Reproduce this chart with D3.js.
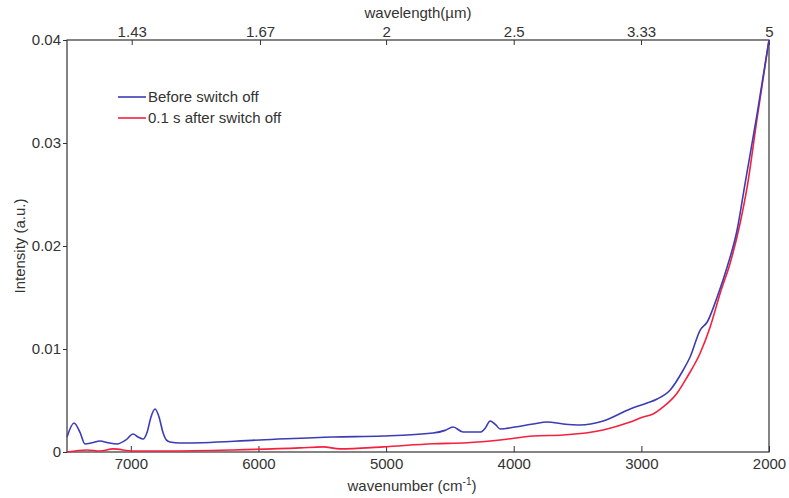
<!DOCTYPE html>
<html>
<head>
<meta charset="utf-8">
<script src="https://cdn.jsdelivr.net/npm/d3@7"></script>
<style>
  body { margin: 0; background: #fff; }
  svg text { font-family: "Liberation Sans", Arial, sans-serif; fill: #333; }
</style>
</head>
<body>
<svg id="chart" width="789" height="498"></svg>
<script>
// data (wavenumber in cm-1, intensity a.u.)
var beforeWn = [7500, 7445, 7398, 7359, 7304, 7241, 7179, 7108, 7038, 6983, 6944, 6904, 6873, 6842, 6810, 6779, 6748, 6720, 6693, 6614,
  5987, 5415, 5024, 4632, 4538, 4475, 4397, 4263, 4224, 4185, 4138, 4107, 3989, 3848, 3738, 3613, 3480, 3299, 3088,
  2955, 2876, 2774, 2672, 2618, 2539, 2484, 2406, 2328, 2250, 2187, 2092, 2000];
var beforeI = [0.00146, 0.00282, 0.0019, 0.00078, 0.0009, 0.00107, 0.0009, 0.00078, 0.00117, 0.00175, 0.00146, 0.00126, 0.0019, 0.0034, 0.00417, 0.0034, 0.0019, 0.00115, 0.00097, 0.00087,
  0.00117, 0.00146, 0.00155, 0.00184, 0.0021, 0.00243, 0.00194, 0.00194, 0.0023, 0.00301, 0.0026, 0.00223, 0.00243, 0.00272, 0.00291, 0.00272, 0.00262, 0.00301, 0.00417,
  0.00476, 0.00515, 0.00602, 0.00796, 0.00922, 0.01184, 0.01262, 0.01505, 0.01796, 0.02155, 0.0261, 0.0329, 0.04];

var afterWn = [7500, 7343, 7241, 7139, 6983, 6716, 6199, 5674, 5494, 5361, 5024, 4632, 4365, 4107, 3848, 3613, 3299, 3088,
  2986, 2908, 2829, 2719, 2641, 2539, 2461, 2382, 2304, 2226, 2171, 2092, 2000];
var afterI = [0.0000, 0.0002, 0.0001, 0.0003, 0.0001, 0.0001, 0.0002, 0.0004, 0.0005, 0.0003, 0.0005, 0.0008, 0.0009, 0.00117, 0.00155, 0.00165, 0.00214, 0.00291,
  0.0034, 0.00369, 0.00437, 0.00573, 0.00728, 0.00961, 0.01214, 0.01544, 0.01835, 0.02223, 0.02573, 0.0325, 0.04];

var xTicks = [7000, 6000, 5000, 4000, 3000, 2000];
var yTicks = [0, 0.01, 0.02, 0.03, 0.04];
var wavelengthTicks = ["1.43", "1.67", "2", "2.5", "3.33", "5"];
var seriesNames = ["Before switch off", "0.1 s after switch off"];
var seriesColors = ["#3c3cb4", "#f5203f"];

var svg = d3.select("#chart");
var margin = {top: 40, right: 20, bottom: 46, left: 67},
    width = 789 - margin.left - margin.right,
    height = 498 - margin.top - margin.bottom;

var x = d3.scaleLinear().domain([7500, 2000]).range([0, width]),
    y = d3.scaleLinear().domain([0, 0.04]).range([height, 0]);

var g = svg.append("g").attr("transform", `translate(${margin.left},${margin.top})`);

// bottom axis, ticks pointing inward
var xAxis = g.append("g")
  .attr("transform", `translate(0,${height})`)
  .call(d3.axisBottom(x).tickValues(xTicks).tickSizeInner(-6).tickSizeOuter(0).tickPadding(6).tickFormat(d3.format("d")));

// top axis: wavelength in µm, placed at 10000/λ
var topAxis = g.append("g")
  .call(d3.axisTop(x)
    .tickValues(wavelengthTicks.map(function(w) { return 10000 / +w; }))
    .tickSizeInner(-5).tickSizeOuter(0).tickPadding(3)
    .tickFormat(function(d, i) { return wavelengthTicks[i]; }));

var yAxis = g.append("g")
  .call(d3.axisLeft(y).tickValues(yTicks).tickSizeInner(4).tickSizeOuter(0).tickPadding(2)
    .tickFormat(function(d) { return d === 0 ? "0" : d3.format(".2f")(d); }));

[xAxis, topAxis, yAxis].forEach(function(a) {
  a.selectAll(".domain").remove();
  a.selectAll("line").style("stroke", "#333");
  a.selectAll("text").style("font-size", "15px").style("fill", "#333");
});

// frame
g.append("rect")
  .attr("width", width).attr("height", height)
  .style("fill", "none").style("stroke", "#333").style("stroke-width", 1.2);

var line = d3.line()
  .x(function(d) { return x(d[0]); })
  .y(function(d) { return y(d[1]); })
  .curve(d3.curveMonotoneX);

g.append("path")
  .datum(afterWn.map(function(w, i) { return [w, afterI[i]]; }))
  .attr("d", line)
  .style("fill", "none").style("stroke", seriesColors[1]).style("stroke-width", 1.6);

g.append("path")
  .datum(beforeWn.map(function(w, i) { return [w, beforeI[i]]; }))
  .attr("d", line)
  .style("fill", "none").style("stroke", seriesColors[0]).style("stroke-width", 1.6);

// legend
seriesNames.forEach(function(name, i) {
  var ly = 97 + i * 21;
  svg.append("line")
    .attr("x1", 118).attr("x2", 146).attr("y1", ly).attr("y2", ly)
    .style("stroke", seriesColors[i]).style("stroke-width", 1.6);
  svg.append("text")
    .attr("x", 148).attr("y", ly + 5)
    .style("font-size", "15px")
    .text(name);
});

// axis titles
svg.append("text")
  .attr("x", margin.left + width / 2).attr("y", 18)
  .style("font-size", "15px").style("text-anchor", "middle")
  .text("wavelength(µm)");

var xt = svg.append("text")
  .attr("x", margin.left + width / 2 - 6).attr("y", 491)
  .style("font-size", "15px").style("text-anchor", "middle")
  .text("wavenumber (cm");
xt.append("tspan").attr("dy", -6).style("font-size", "10px").text("-1");
xt.append("tspan").attr("dy", 6).text(")");

svg.append("text")
  .attr("transform", "translate(25," + (margin.top + height / 2) + ") rotate(-90)")
  .style("font-size", "15px").style("text-anchor", "middle")
  .text("Intensity (a.u.)");
</script>
</body>
</html>
